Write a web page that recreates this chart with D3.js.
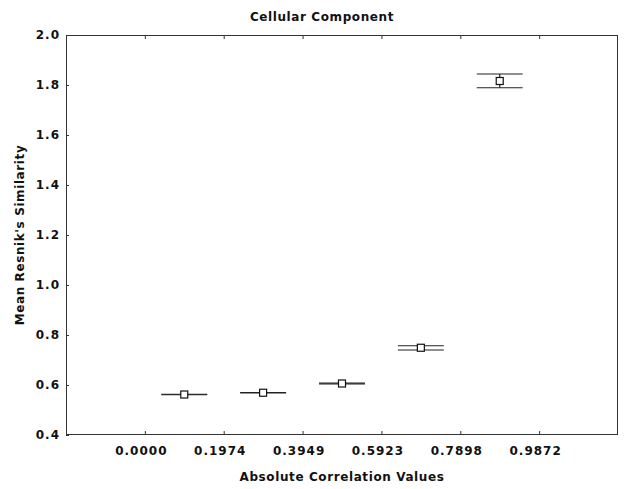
<!DOCTYPE html>
<html>
<head>
<meta charset="utf-8">
<script src="https://cdn.jsdelivr.net/npm/d3@7"></script>
<style>
  body { margin: 0; background: #fff; }
  text { font-family: "DejaVu Sans", Verdana, sans-serif; font-weight: bold; fill: #111; }
</style>
</head>
<body>
<svg id="chart" width="624" height="489"></svg>
<script>
// ---- data ----
const categories = [0.0987, 0.2961, 0.4936, 0.6910, 0.8885];
const means      = [0.562, 0.569, 0.606, 0.749, 1.816];
const lowerBound = [0.561, 0.568, 0.6045, 0.740, 1.789];
const upperBound = [0.563, 0.570, 0.608, 0.757, 1.844];
const xTickValues = [0.0000, 0.1974, 0.3949, 0.5923, 0.7898, 0.9872];
const xTickLabels = ["0.0000", "0.1974", "0.3949", "0.5923", "0.7898", "0.9872"];
const yTickValues = [0.4, 0.6, 0.8, 1.0, 1.2, 1.4, 1.6, 1.8, 2.0];
const yTickLabels = ["0.4", "0.6", "0.8", "1.0", "1.2", "1.4", "1.6", "1.8", "2.0"];

const svg = d3.select("#chart");
const L = 66, R = 618, T = 35, B = 435;

const x = d3.scaleLinear().domain([-0.1974, 1.1846]).range([L, R]);
const y = d3.scaleLinear().domain([0.4, 2.0]).range([B, T]);

// frame
svg.append("rect").attr("x", L + 0.5).attr("y", T + 0.5)
  .attr("width", R - L - 1).attr("height", B - T - 1)
  .attr("fill", "none").attr("stroke", "#333").attr("stroke-width", 1);

const fmtX = (d, i) => xTickLabels[i];
const fmtY = (d, i) => yTickLabels[i];

const gx = svg.append("g").attr("transform", `translate(0,${B})`)
  .call(d3.axisBottom(x).tickValues(xTickValues).tickFormat(fmtX).tickSizeInner(-4).tickSizeOuter(0).tickPadding(11));
gx.select(".domain").remove();
gx.selectAll(".tick line").attr("stroke", "#333");
gx.selectAll(".tick text").attr("font-size", 12).attr("letter-spacing", 1)
  .attr("dx", -4).style("font-family", '"DejaVu Sans", Verdana, sans-serif').style("font-weight", "bold").attr("fill", "#111");

const gxt = svg.append("g").attr("transform", `translate(0,${T})`)
  .call(d3.axisTop(x).tickValues(xTickValues).tickFormat("").tickSizeInner(-4).tickSizeOuter(0));
gxt.select(".domain").remove();
gxt.selectAll(".tick line").attr("stroke", "#333");

const gy = svg.append("g").attr("transform", `translate(${L},0)`)
  .call(d3.axisLeft(y).tickValues(yTickValues).tickFormat(fmtY).tickSizeInner(-3).tickSizeOuter(0).tickPadding(6));
gy.select(".domain").remove();
gy.selectAll(".tick line").attr("stroke", "#333");
gy.selectAll(".tick text").attr("font-size", 12).attr("letter-spacing", 1)
  .style("font-family", '"DejaVu Sans", Verdana, sans-serif').style("font-weight", "bold").attr("fill", "#111");

// error bars
const capHalf = 0.0575;
const g = svg.append("g");
categories.forEach((c, i) => {
  const cx = x(c);
  [lowerBound[i], upperBound[i]].forEach(v => {
    g.append("line")
      .attr("x1", x(c - capHalf)).attr("x2", x(c + capHalf))
      .attr("y1", y(v)).attr("y2", y(v))
      .attr("stroke", "#222").attr("stroke-width", 1.2);
  });
  g.append("line")
    .attr("x1", cx).attr("x2", cx)
    .attr("y1", y(upperBound[i])).attr("y2", y(lowerBound[i]))
    .attr("stroke", "#222").attr("stroke-width", 1.2);
  g.append("rect")
    .attr("x", cx - 3.5).attr("y", y(means[i]) - 3.5)
    .attr("width", 7).attr("height", 7)
    .attr("fill", "#fff").attr("stroke", "#111").attr("stroke-width", 1.2);
});

// titles
svg.append("text").attr("x", 322).attr("y", 21).attr("text-anchor", "middle")
  .attr("font-size", 12).attr("letter-spacing", 0.6).text("Cellular Component");
svg.append("text").attr("x", 342).attr("y", 481).attr("text-anchor", "middle")
  .attr("font-size", 12).attr("letter-spacing", 0.6).text("Absolute Correlation Values");
svg.append("text").attr("transform", `translate(24,${(T + B) / 2}) rotate(-90)`)
  .attr("text-anchor", "middle").attr("font-size", 12).attr("letter-spacing", 0.6)
  .text("Mean Resnik's Similarity");
</script>
</body>
</html>
